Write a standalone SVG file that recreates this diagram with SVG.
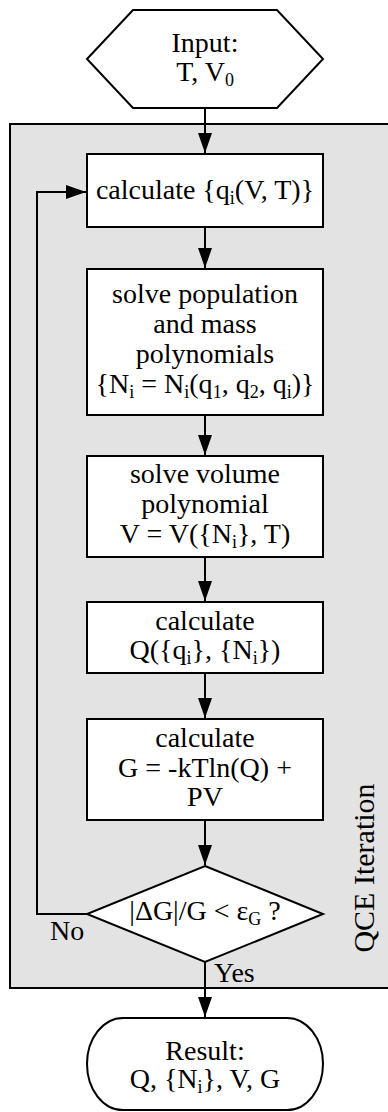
<svg xmlns="http://www.w3.org/2000/svg" width="388" height="1112" viewBox="0 0 388 1112" font-family="'Liberation Serif', 'DejaVu Serif', serif">
<style>
  text { font-family: 'Liberation Serif', 'DejaVu Serif', serif; font-size: 28px; fill: #000; }
  .c { text-anchor: middle; }
  .sub { font-size: 18px; }
  .lab { font-size: 30px; }
  .node { fill: #fff; stroke: #000; stroke-width: 2; }
  .edge { fill: none; stroke: #000; stroke-width: 2; }
</style>
<defs>
  <marker id="arr" markerUnits="userSpaceOnUse" markerWidth="20" markerHeight="14" refX="20" refY="7" orient="auto">
    <path d="M0,0 L20,7 L0,14 z" fill="#000"/>
  </marker>
</defs>
<rect width="388" height="1112" fill="#fff"/>
<g id="qce-region">
  <rect x="10" y="124" width="390" height="864" fill="#e3e3e3" stroke="#000" stroke-width="2"/>
  <text transform="translate(374,868) rotate(-90)" class="c lab">QCE Iteration</text>
</g>
<g id="connectors">
  <path class="edge" d="M205,108 V153" marker-end="url(#arr)"/>
  <path class="edge" d="M205,227 V268" marker-end="url(#arr)"/>
  <path class="edge" d="M205,415 V455" marker-end="url(#arr)"/>
  <path class="edge" d="M205,557 V601" marker-end="url(#arr)"/>
  <path class="edge" d="M205,673 V718" marker-end="url(#arr)"/>
  <path class="edge" d="M205,820 V865" marker-end="url(#arr)"/>
  <path class="edge" d="M205,962 V1017" marker-end="url(#arr)"/>
  <path class="edge" d="M87,914 H37 V192 H86" marker-end="url(#arr)"/>
  <text x="50" y="940">No</text>
  <text x="214" y="982">Yes</text>
</g>
<g id="input">
  <polygon class="node" points="87,59 133,10 277,10 323,59 277,108 133,108"/>
  <text class="c" x="205" y="52">Input:</text>
  <text class="c" x="205" y="81">T, V<tspan class="sub" dy="5">0</tspan></text>
</g>
<g id="calc-q">
  <rect class="node" x="87" y="154" width="236" height="73"/>
  <text class="c" x="205" y="199">calculate {q<tspan class="sub" dy="5">i</tspan><tspan dy="-5">(V, T)}</tspan></text>
</g>
<g id="solve-pop">
  <rect class="node" x="87" y="269" width="236" height="146"/>
  <text class="c" x="205" y="303">solve population</text>
  <text class="c" x="205" y="333">and mass</text>
  <text class="c" x="205" y="363">polynomials</text>
  <text class="c" x="205" y="393">{N<tspan class="sub" dy="5">i</tspan><tspan dy="-5"> = N</tspan><tspan class="sub" dy="5">i</tspan><tspan dy="-5">(q</tspan><tspan class="sub" dy="5">1</tspan><tspan dy="-5">, q</tspan><tspan class="sub" dy="5">2</tspan><tspan dy="-5">, q</tspan><tspan class="sub" dy="5">i</tspan><tspan dy="-5">)}</tspan></text>
</g>
<g id="solve-vol">
  <rect class="node" x="87" y="456" width="236" height="101"/>
  <text class="c" x="205" y="483">solve volume</text>
  <text class="c" x="205" y="513">polynomial</text>
  <text class="c" x="205" y="543">V = V({N<tspan class="sub" dy="5">i</tspan><tspan dy="-5">}, T)</tspan></text>
</g>
<g id="calc-Q">
  <rect class="node" x="87" y="602" width="236" height="71"/>
  <text class="c" x="205" y="630">calculate</text>
  <text class="c" x="205" y="659">Q({q<tspan class="sub" dy="5">i</tspan><tspan dy="-5">}, {N</tspan><tspan class="sub" dy="5">i</tspan><tspan dy="-5">})</tspan></text>
</g>
<g id="calc-G">
  <rect class="node" x="87" y="719" width="236" height="101"/>
  <text class="c" x="205" y="747">calculate</text>
  <text class="c" x="205" y="777">G = -kTln(Q) +</text>
  <text class="c" x="205" y="806">PV</text>
</g>
<g id="decision">
  <polygon class="node" points="205,866 323,914 205,962 87,914"/>
  <text class="c" x="205" y="920">|ΔG|/G &lt; ε<tspan class="sub" dy="5">G</tspan><tspan dy="-5"> ?</tspan></text>
</g>
<g id="result">
  <rect class="node" x="87" y="1018" width="236" height="92" rx="36" ry="46"/>
  <text class="c" x="205" y="1060">Result:</text>
  <text class="c" x="205" y="1088">Q, {N<tspan class="sub" dy="5">i</tspan><tspan dy="-5">}, V, G</tspan></text>
</g>
</svg>
